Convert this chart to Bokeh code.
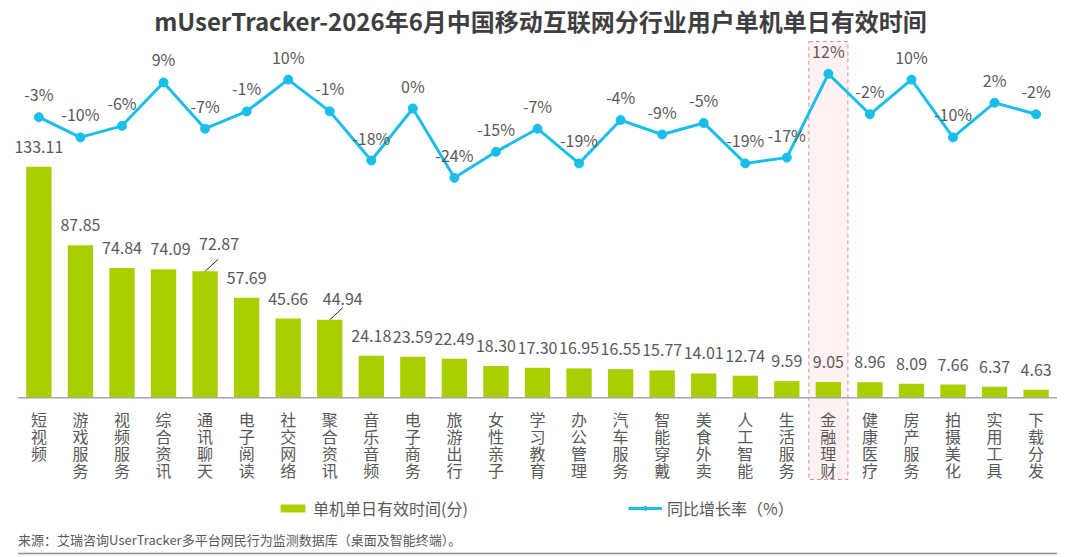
from bokeh.core.properties import value
from bokeh.embed import file_html
from bokeh.models import ColumnDataSource, FactorRange, Range1d, Legend, LegendItem
from bokeh.plotting import figure
from bokeh.resources import INLINE

# data
categories = ["短视频", "游戏服务", "视频服务", "综合资讯", "通讯聊天", "电子阅读", "社交网络",
              "聚合资讯", "音乐音频", "电子商务", "旅游出行", "女性亲子", "学习教育", "办公管理",
              "汽车服务", "智能穿戴", "美食外卖", "人工智能", "生活服务", "金融理财", "健康医疗",
              "房产服务", "拍摄美化", "实用工具", "下载分发"]
minutes = [133.11, 87.85, 74.84, 74.09, 72.87, 57.69, 45.66, 44.94, 24.18, 23.59, 22.49, 18.30,
           17.30, 16.95, 16.55, 15.77, 14.01, 12.74, 9.59, 9.05, 8.96, 8.09, 7.66, 6.37, 4.63]
growth = [-3, -10, -6, 9, -7, -1, 10, -1, -18, 0, -24, -15, -7, -19, -4, -9, -5, -19, -17,
          12, -2, 10, -10, 2, -2]

title_text = "mUserTracker-2026年6月中国移动互联网分行业用户单机单日有效时间"
bar_name = "单机单日有效时间(分)"
line_name = "同比增长率（%）"
source_note = "来源：艾瑞咨询UserTracker多平台网民行为监测数据库（桌面及智能终端）。"
highlight = "金融理财"

# styles
FONT = "Noto Sans CJK SC"
GREEN = "#A9CF00"
BLUE = "#19BEE9"
GRAY = "#595959"

# layout (pixels from the top-left of the picture)
W, H = 1080, 557
BASE = 397.3      # bar baseline
PX_MIN = 1.736    # px per minute
ZERO = 108.0      # 0 % of the growth line
PX_PCT = 2.889    # px per percent
SLOT = 41.55
PAD = 17.6


def yb(y):
    return (BASE - y) / PX_MIN


def yp(y):
    return (ZERO - y) / PX_PCT


n = len(categories)
x_range = FactorRange(factors=categories, range_padding=2 * PAD / (SLOT * n))
frame_w = SLOT * n + 2 * PAD

p = figure(width=W, height=H, x_range=x_range,
           y_range=Range1d(yb(H), yb(0)),
           x_axis_location=None, y_axis_location=None,
           toolbar_location=None, tools="", output_backend="svg",
           min_border=0, min_border_right=int(round(W - frame_w)))
p.extra_y_ranges = {"pct": Range1d(yp(H), yp(0))}
p.outline_line_color = None
p.grid.visible = False

# label nudges (px)
dx = [0] * n
dy = [-20] * n
dx[3], dx[4], dx[7] = 7, 14, 13
dy[4], dy[7] = -27, -21

source = ColumnDataSource(dict(
    cat=categories,
    minutes=minutes,
    growth=growth,
    min_label=["%.2f" % v for v in minutes],
    pct_label=["%d%%" % g for g in growth],
    cat_label=["\n".join(c) for c in categories],
    dx=dx,
    dy=dy,
))

# highlighted column
hl = ColumnDataSource(dict(left=[(highlight, -0.47)], right=[(highlight, 0.47)],
                           top=[yb(41)], bottom=[yb(479)]))
p.quad(left="left", right="right", top="top", bottom="bottom", source=hl,
       fill_color="#FFF2F3", line_color="#EE8790", line_dash="4 3", line_width=1)

bars = p.vbar(x="cat", top="minutes", width=0.61, source=source,
              fill_color=GREEN, line_color=None)

# baseline and bottom rule
rules = ColumnDataSource(dict(x0=[(categories[0], -0.5)] * 2, x1=[(categories[-1], 0.5)] * 2,
                              y=[0, yb(553)], c=["#A6A6A6", "#8C8C8C"]))
p.segment(x0="x0", y0="y", x1="x1", y1="y", source=rules, line_color="c", line_width=1.5)

# leader lines for nudged labels
lead = [4, 7]
leaders = ColumnDataSource(dict(
    x0=[(categories[i], 0.0) for i in lead],
    y0=[minutes[i] for i in lead],
    x1=[(categories[i], 13.0 / SLOT) for i in lead],
    y1=[minutes[i] + 12.0 / PX_MIN for i in lead],
))
p.segment(x0="x0", y0="y0", x1="x1", y1="y1", source=leaders, line_color="#262626", line_width=1)

line = p.line(x="cat", y="growth", source=source, y_range_name="pct",
              line_color=BLUE, line_width=3)
dots = p.scatter(x="cat", y="growth", source=source, y_range_name="pct",
                 size=9, fill_color=BLUE, line_color=BLUE)

p.text(x="cat", y="minutes", text="min_label", source=source, x_offset="dx", y_offset="dy",
       text_font=value(FONT), text_font_size="16px", text_color=GRAY,
       text_align="center", text_baseline="middle")
p.text(x="cat", y="growth", text="pct_label", source=source, y_range_name="pct", y_offset=-23,
       text_font=value(FONT), text_font_size="16px", text_color=GRAY,
       text_align="center", text_baseline="middle")
p.text(x="cat", y=0, text="cat_label", source=source, y_offset=9,
       text_font=value(FONT), text_font_size="16px", text_color=GRAY, text_line_height=0.71,
       text_align="center", text_baseline="top")

# title and source note
p.text(x=[categories[12]], y=[yb(20)], text=[title_text], x_offset=3,
       text_font=value(FONT), text_font_size="24px", text_font_style="bold",
       text_color="#3F3F3F", text_align="center", text_baseline="middle")
note = ColumnDataSource(dict(x=[(categories[0], -0.5)], y=[yb(539)], t=[source_note]))
p.text(x="x", y="y", text="t", source=note,
       text_font=value(FONT), text_font_size="13px", text_color=GRAY,
       text_align="left", text_baseline="middle")

# legends
for items, loc, gw in [([LegendItem(label=bar_name, renderers=[bars])], (277, 37), 31),
                       ([LegendItem(label=line_name, renderers=[line, dots])], (628, 37), 34)]:
    leg = Legend(items=items, location=loc, orientation="horizontal",
                 glyph_width=gw, glyph_height=10, label_standoff=5,
                 padding=0, margin=0, border_line_color=None, background_fill_alpha=0,
                 label_text_font=FONT, label_text_font_size="16px", label_text_color=GRAY)
    p.add_layout(leg)

open("out.html", "w", encoding="utf-8").write(file_html(p, INLINE))
